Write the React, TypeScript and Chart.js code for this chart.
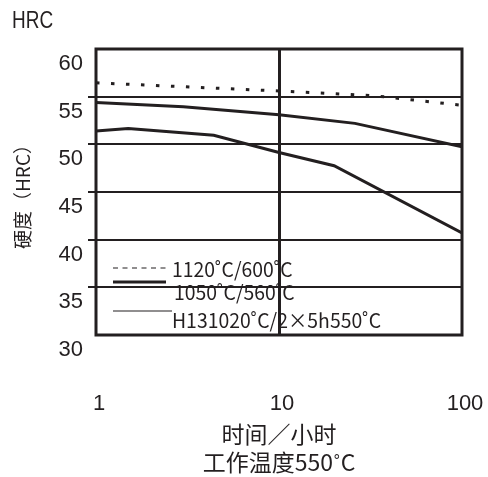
import React, { useEffect, useRef } from 'react';
import { Chart, registerables } from 'chart.js';

Chart.register(...registerables);

const INK = '#231f20';

// ---- data ----
const seriesLabels = ['1120˚C/600˚C', '1050˚C/560˚C', 'H131020˚C/2×5h550˚C'];
const hours1120 = [1, 10, 33, 100];
const hrc1120 = [56.45, 55.6, 55.1, 54.1];
const hours1050 = [1, 3, 10, 26, 100];
const hrc1050 = [54.4, 53.95, 53.1, 52.2, 49.75];
const hoursH13 = [1, 1.5, 4.4, 10, 20, 100];
const hrcH13 = [51.4, 51.65, 50.95, 49.15, 47.75, 40.7];
const xTickValues = [1, 10, 100];
const yTickValues = [30, 35, 40, 45, 50, 55, 60];
const xTitle = ['时间／小时', '工作温度550˚C'];
const yTitle = '硬度（HRC）';
const unitLabel = 'HRC';

const toPoints = (xs: number[], ys: number[]) => xs.map((x, i) => ({ x, y: ys[i] }));

const framePlugin = {
  id: 'frameAndLegend',
  afterDatasetsDraw(chart: any) {
    const { ctx, chartArea: a } = chart;
    ctx.save();
    // frame
    ctx.strokeStyle = INK;
    ctx.lineWidth = 3;
    ctx.setLineDash([]);
    ctx.strokeRect(a.left, a.top, a.right - a.left, a.bottom - a.top);

    // custom legend inside plot
    const samples = [
      { dash: [5, 4.5], width: 1.2, x1: 74, ly: 219, tx: 76, ty: 220 },
      { dash: [], width: 3, x1: 70, ly: 233, tx: 78, ty: 243 },
      { dash: [], width: 1.2, x1: 76, ly: 262, tx: 76, ty: 271.5 },
    ];
    ctx.font = "20px 'Noto Sans CJK SC', 'Liberation Sans', sans-serif";
    ctx.fillStyle = INK;
    ctx.textBaseline = 'middle';
    ctx.textAlign = 'left';
    samples.forEach((s, i) => {
      ctx.beginPath();
      ctx.setLineDash(s.dash);
      ctx.lineWidth = s.width;
      ctx.moveTo(a.left + 17, a.top + s.ly);
      ctx.lineTo(a.left + s.x1, a.top + s.ly);
      ctx.stroke();
      ctx.save();
      ctx.translate(a.left + s.tx, a.top + s.ty);
      ctx.scale(0.97, 1);
      ctx.fillText(chart.data.datasets[i].label, 0, 0);
      ctx.restore();
    });
    ctx.setLineDash([]);

    // unit label top-left
    ctx.font = "24px 'Liberation Sans', sans-serif";
    ctx.save();
    ctx.translate(12, 21.5);
    ctx.scale(0.79, 1);
    ctx.fillText(unitLabel, 0, 0);
    ctx.restore();
    ctx.restore();
  },
};

export default function App() {
  const ref = useRef<HTMLCanvasElement | null>(null);

  useEffect(() => {
    if (!ref.current) return;
    const lineBase = {
      borderColor: INK,
      backgroundColor: INK,
      borderWidth: 3,
      pointRadius: 0,
      tension: 0,
      fill: false,
    };
    const chart = new Chart(ref.current, {
      type: 'line',
      data: {
        datasets: [
          {
            ...lineBase,
            label: seriesLabels[0],
            data: toPoints(hours1120, hrc1120),
            borderDash: [3.5, 11.5],
            borderCapStyle: 'butt',
          },
          { ...lineBase, label: seriesLabels[1], data: toPoints(hours1050, hrc1050) },
          { ...lineBase, label: seriesLabels[2], data: toPoints(hoursH13, hrcH13) },
        ],
      },
      options: {
        animation: false,
        responsive: false,
        maintainAspectRatio: false,
        layout: { padding: { top: 49, right: 26, left: 0, bottom: 0 } },
        plugins: { legend: { display: false }, tooltip: { enabled: false } },
        scales: {
          x: {
            type: 'logarithmic',
            min: 1,
            max: 100,
            afterBuildTicks: (s: any) => {
              s.ticks = xTickValues.map((v) => ({ value: v }));
            },
            afterFit: (s: any) => {
              s.height = 142;
            },
            ticks: {
              callback: (v: any) => String(v),
              font: { family: 'Liberation Sans', size: 22 },
              color: INK,
              padding: 2,
              labelOffset: 3,
              autoSkip: false,
              maxRotation: 0,
            },
            grid: {
              drawTicks: true,
              tickLength: 54,
              tickColor: 'rgba(0,0,0,0)',
              color: INK,
              lineWidth: (c: any) => (c.tick && c.tick.value === 10 ? 3 : 0),
            },
            border: { display: false },
            title: {
              display: true,
              text: xTitle,
              color: INK,
              font: { family: 'Noto Sans CJK SC', size: 23, lineHeight: 28 / 23 },
              padding: { top: 0, bottom: 1 },
            },
          },
          y: {
            type: 'linear',
            min: 30,
            max: 60,
            afterBuildTicks: (s: any) => {
              s.ticks = yTickValues.map((v) => ({ value: v }));
            },
            afterFit: (s: any) => {
              s.width = 96;
            },
            ticks: {
              font: { family: 'Liberation Sans', size: 22 },
              color: INK,
              padding: 5,
              labelOffset: 15,
            },
            grid: {
              color: INK,
              lineWidth: 2,
              tickLength: 8,
              tickWidth: 2,
              tickColor: (c: any) =>
                c.tick && (c.tick.value === 30 || c.tick.value === 60) ? 'rgba(0,0,0,0)' : INK,
            },
            border: { display: false },
            title: {
              display: true,
              text: yTitle,
              color: INK,
              font: { family: 'Noto Sans CJK SC', size: 19 },
              padding: { top: 11, bottom: 0 },
            },
          },
        },
      },
      plugins: [framePlugin],
    } as any);
    return () => chart.destroy();
  }, []);

  return (
    <div style={{ position: 'fixed', left: 0, top: 0, width: 488, height: 477, background: '#fff' }}>
      <canvas ref={ref} width={488} height={477} style={{ display: 'block' }} />
    </div>
  );
}
